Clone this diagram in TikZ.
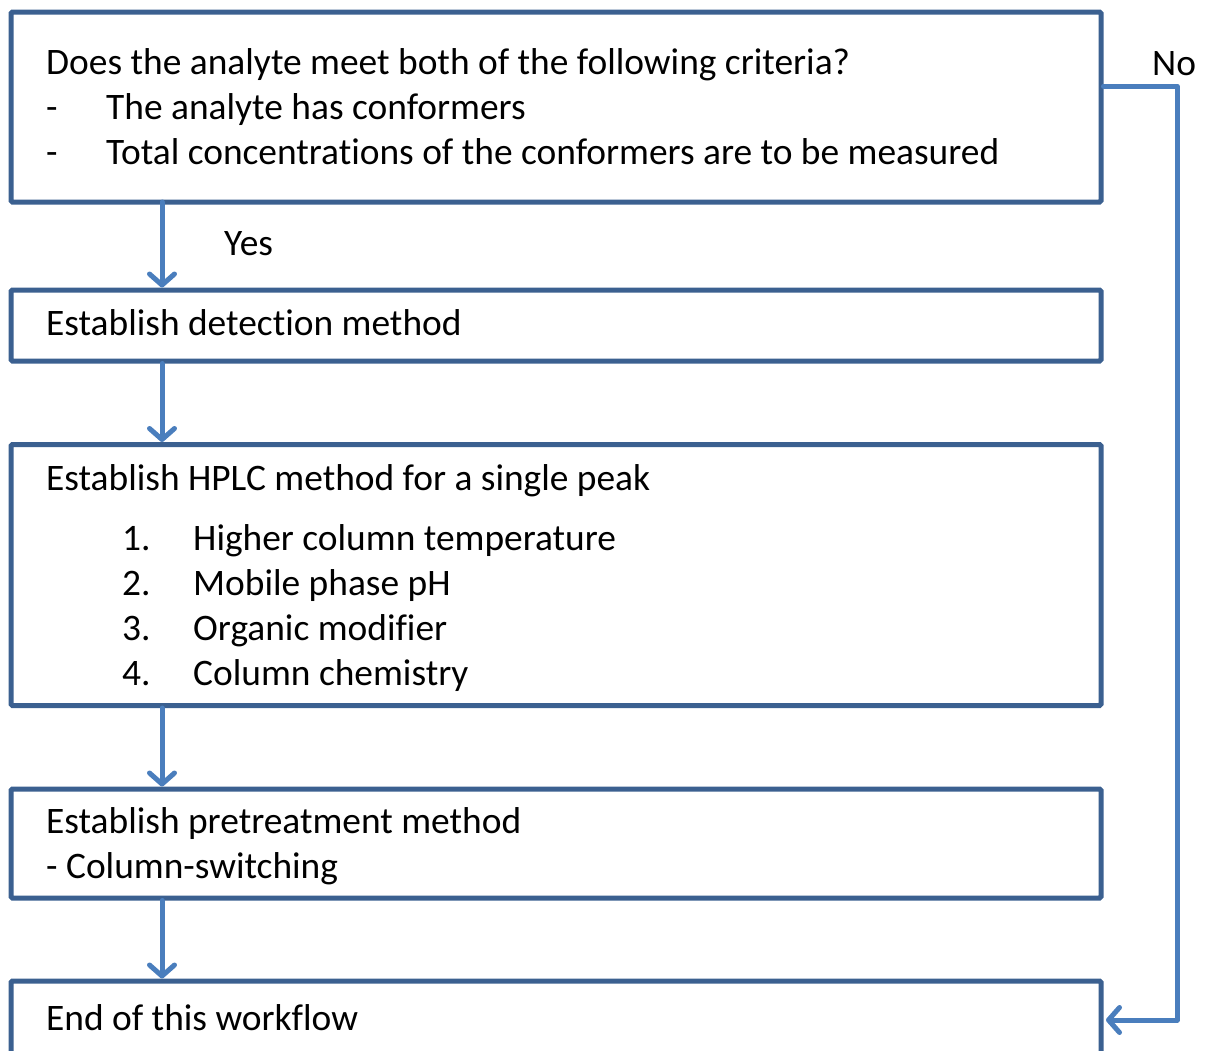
\documentclass[tikz,border=0pt]{standalone}
\usepackage{fontspec}
\setmainfont[Ligatures=NoCommon]{Carlito}
\usetikzlibrary{arrows.meta}
\definecolor{boxline}{HTML}{3B6090}
\definecolor{flowline}{HTML}{4A7EBD}
\tikzset{
  stepbox/.style={draw=boxline, line width=5pt, rounded corners=1.5pt, fill=white, inner sep=0pt},
  flow/.style={draw=flowline, line width=5pt, line cap=round, line join=round,
    -{Straight Barb[length=11pt, width=25pt, line width=5pt, round]}},
  txt/.style={anchor=base west, inner sep=0pt, font=\fontsize{37.4pt}{44pt}\selectfont}
}
\begin{document}
\begin{tikzpicture}[x=1pt, y=-1pt]
\useasboundingbox (0,0) rectangle (1205,1050);
% boxes, outlined by their border centre lines
\node[stepbox, minimum width=1090pt, minimum height=190pt] (q)   at (556,107) {};
\node[stepbox, minimum width=1090pt, minimum height=71pt]  (det) at (556,325.5) {};
\node[stepbox, minimum width=1090pt, minimum height=261pt] (hplc) at (556,575) {};
\node[stepbox, minimum width=1090pt, minimum height=109pt] (pre) at (556,843.5) {};
\node[stepbox, minimum width=1090pt, minimum height=120pt] (end) at (556,1041) {};
% question
\node[txt] (q1) at (46,74.5) {Does the analyte meet both of the following criteria?};
\node[txt] (q2d) at (46,119.5) {-};
\node[txt] (q2) at (106,119.5) {The analyte has conformers};
\node[txt] (q3d) at (46,164.5) {-};
\node[txt] (q3) at (106,164.5) {Total concentrations of the conformers are to be measured};
% steps
\node[txt] (d1) at (46,335.5) {Establish detection method};
\node[txt] (h0) at (46,490.5) {Establish HPLC method for a single peak};
\node[txt] (h1n) at (122,550.5) {1.};
\node[txt] (h1) at (193,550.5) {Higher column temperature};
\node[txt] (h2n) at (122,595.5) {2.};
\node[txt] (h2) at (193,595.5) {Mobile phase pH};
\node[txt] (h3n) at (122,640.5) {3.};
\node[txt] (h3) at (193,640.5) {Organic modifier};
\node[txt] (h4n) at (122,685.5) {4.};
\node[txt] (h4) at (193,685.5) {Column chemistry};
\node[txt] (p1) at (46,833.5) {Establish pretreatment method};
\node[txt] (p2) at (46,878.5) {- Column-switching};
\node[txt] (e1) at (46,1030.5) {End of this workflow};
% labels
\node[txt] (yes) at (224,255.5) {Yes};
\node[txt] (no) at (1152,75.5) {No};
% connectors
\coordinate (qx) at (162,202);
\draw[flow] (qx) -- (qx |- det.north);
\draw[flow] (qx |- det.south) -- (qx |- hplc.north);
\draw[flow] (qx |- hplc.south) -- (qx |- pre.north);
\draw[flow] (qx |- pre.south) -- (qx |- end.north);
\coordinate (nostart) at (q.east |- 0,86);
\coordinate (noend) at (end.east |- 0,1020);
\draw[flow] (nostart) -- (1177,86) -- (1177,1020) -- ([xshift=2.5pt]noend);
\end{tikzpicture}
\end{document}
